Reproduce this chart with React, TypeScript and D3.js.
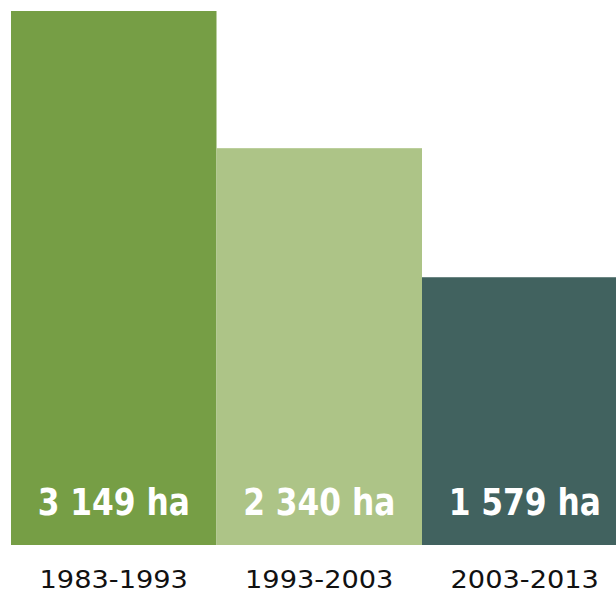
import * as d3 from 'd3';

const periods = ['1983-1993', '1993-2003', '2003-2013'];
const hectares = [3149, 2340, 1579];
const colors = ['#769e45', '#adc487', '#41625f'];

const W = 616, H = 591;

export default function App() {
    const x = d3.scaleBand<string>()
        .domain(periods)
        .range([11, 11 + 3 * 205.5])
        .padding(0);

    const y = d3.scaleLinear()
        .domain([0, d3.max(hectares) as number])
        .range([545, 11]);

    const fmt = (v: number) => d3.format(',')(v).replace(',', ' ') + ' ha';

    return (
        <svg width={W} height={H} style={{ position: 'absolute', left: 0, top: 0 }}>
            {periods.map((p, i) => {
                const cx = (x(p) as number) + x.bandwidth() / 2;
                return (
                    <g key={p}>
                        <rect x={x(p)} y={y(hectares[i])} width={x.bandwidth()}
                            height={y(0) - y(hectares[i])} fill={colors[i]} />
                        <text transform={`translate(${cx},515) scale(0.915,1)`}
                            textAnchor="middle" fill="#fff"
                            style={{ fontFamily: 'DejaVu Sans', fontStretch: 'condensed', fontWeight: 'bold', fontSize: 38 }}>
                            {fmt(hectares[i])}
                        </text>
                        <text transform={`translate(${cx},588) scale(1.09,1)`}
                            textAnchor="middle" fill="#111"
                            style={{ fontFamily: 'DejaVu Sans', fontSize: 25 }}>
                            {p}
                        </text>
                    </g>
                );
            })}
        </svg>
    );
}
